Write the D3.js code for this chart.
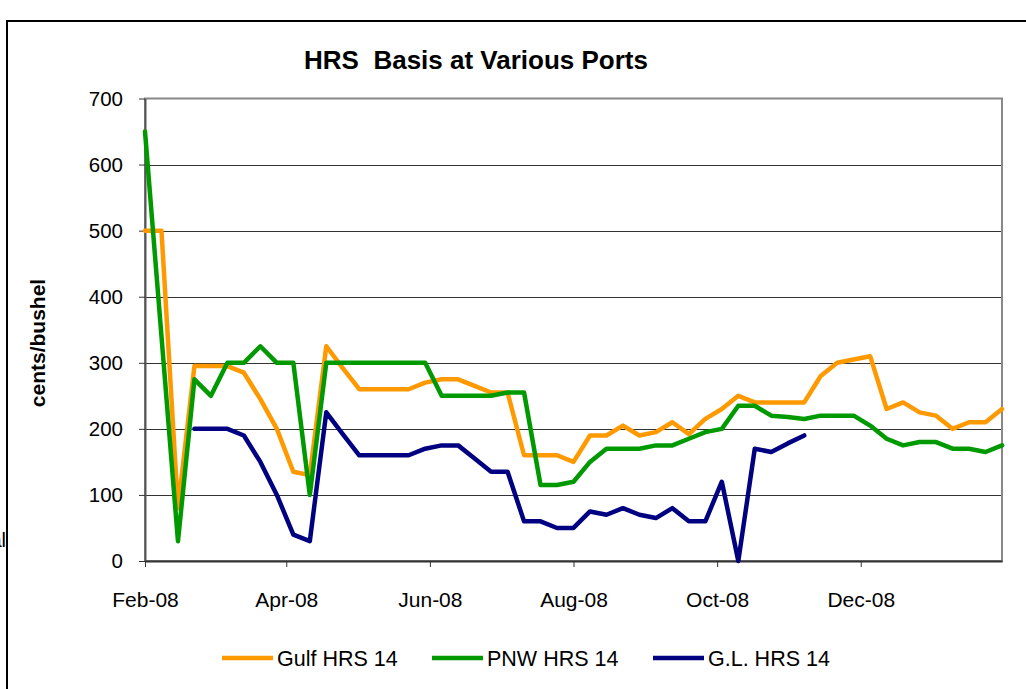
<!DOCTYPE html>
<html>
<head>
<meta charset="utf-8">
<script src="https://cdn.jsdelivr.net/npm/d3@7"></script>
<style>
  html, body { margin: 0; padding: 0; background: #fff; }
  svg { display: block; font-family: "Liberation Sans", Arial, sans-serif; }
</style>
</head>
<body>
<svg id="chart" width="1026" height="689"></svg>
<script>
// ---------------- DATA ----------------
const dates = [
  "2008-02-01","2008-02-08","2008-02-15","2008-02-22","2008-02-29","2008-03-07","2008-03-14","2008-03-21","2008-03-28",
  "2008-04-04","2008-04-11","2008-04-18","2008-04-25","2008-05-02","2008-05-09","2008-05-16","2008-05-23","2008-05-30",
  "2008-06-06","2008-06-13","2008-06-20","2008-06-27","2008-07-04","2008-07-11","2008-07-18","2008-07-25",
  "2008-08-01","2008-08-08","2008-08-15","2008-08-22","2008-08-29","2008-09-05","2008-09-12","2008-09-19","2008-09-26",
  "2008-10-03","2008-10-10","2008-10-17","2008-10-24","2008-10-31","2008-11-07","2008-11-14","2008-11-21","2008-11-28",
  "2008-12-05","2008-12-12","2008-12-19","2008-12-26","2009-01-02","2009-01-09","2009-01-16","2009-01-23","2009-01-30"
];
const gulfHRS14 = [
  500,500,80,295,295,295,285,245,200,
  135,130,325,292,260,260,260,260,270,
  275,275,265,255,255,160,160,160,
  150,190,190,205,190,195,210,192,215,
  230,250,240,240,240,240,280,300,305,
  310,230,240,225,220,200,210,210,230
];
const pnwHRS14 = [
  650,340,30,275,250,300,300,325,300,
  300,100,300,300,300,300,300,300,300,
  250,250,250,250,255,255,115,115,
  120,150,170,170,170,175,175,185,195,
  200,235,235,220,218,215,220,220,220,
  205,185,175,180,180,170,170,165,175
];
const glHRS14 = [
  null,null,null,200,200,200,190,150,100,
  40,30,225,192,160,160,160,160,170,
  175,175,155,135,135,60,60,50,
  50,75,70,80,70,65,80,60,60,
  120,0,170,165,178,190,null,null,null,
  null,null,null,null,null,null,null,null,null
];
const seriesNames = ["Gulf HRS 14", "PNW HRS 14", "G.L. HRS 14"];
const seriesColors = ["#FF9900", "#009900", "#000080"];
const yTicks = [0,100,200,300,400,500,600,700];
const xTickDates = ["2008-02-01","2008-04-01","2008-06-01","2008-08-01","2008-10-01","2008-12-01"];
const titleText = "HRS  Basis at Various Ports";
const yAxisTitle = "cents/bushel";

// ---------------- CHART ----------------
const parse = d3.timeParse("%Y-%m-%d");
const dateObjs = dates.map(parse);
const seriesData = [gulfHRS14, pnwHRS14, glHRS14];

const svg = d3.select("#chart");
svg.append("rect").attr("width", 1026).attr("height", 689).attr("fill", "#fff");

// outer chart frame (partially outside view)
svg.append("rect")
  .attr("x", 7).attr("y", 21).attr("width", 1100).attr("height", 700)
  .attr("fill", "none").attr("stroke", "#000").attr("stroke-width", 2);

// stray cut-off text at left
svg.append("text").attr("x", 6).attr("y", 547).attr("text-anchor", "end")
  .attr("font-size", 20).attr("fill", "#000").text("al");

const pLeft = 145, pRight = 1002, pTop = 98.5, pBottom = 561;
const x = d3.scaleTime().domain([dateObjs[0], dateObjs[dateObjs.length - 1]]).range([pLeft, pRight]);
const y = d3.scaleLinear().domain([0, 700]).range([pBottom, pTop]);

// gridlines
svg.append("g").selectAll("line").data(yTicks.filter(v => v > 0 && v < 700)).join("line")
  .attr("x1", pLeft).attr("x2", pRight)
  .attr("y1", d => Math.round(y(d)) + 0.5).attr("y2", d => Math.round(y(d)) + 0.5)
  .attr("stroke", "#333").attr("stroke-width", 1);

// plot border
svg.append("rect").attr("x", pLeft).attr("y", pTop).attr("width", pRight - pLeft).attr("height", pBottom - pTop)
  .attr("fill", "none").attr("stroke", "#888").attr("stroke-width", 2);

// title
svg.append("text").attr("x", 476).attr("y", 69).attr("text-anchor", "middle")
  .attr("font-size", 26).attr("font-weight", "bold").attr("fill", "#000")
  .style("white-space", "pre").attr("xml:space", "preserve").text(titleText);

// y axis title
svg.append("text").attr("transform", "translate(45,343) rotate(-90)")
  .attr("text-anchor", "middle").attr("font-size", 21).attr("font-weight", "bold")
  .attr("fill", "#000").text(yAxisTitle);

// y axis
const yAxis = svg.append("g").attr("transform", `translate(${pLeft},0)`)
  .call(d3.axisLeft(y).tickValues(yTicks).tickSize(6).tickSizeOuter(0).tickPadding(16).tickFormat(d3.format("d")));
yAxis.select(".domain").attr("stroke", "#555").attr("stroke-width", 2);
yAxis.selectAll(".tick line").attr("stroke", "#333");
yAxis.selectAll("text").attr("font-size", 20.5).attr("font-family", "Liberation Sans, Arial, sans-serif").attr("fill", "#000");

// x axis
const xAxis = svg.append("g").attr("transform", `translate(0,${pBottom})`)
  .call(d3.axisBottom(x).tickValues(xTickDates.map(parse)).tickSize(6).tickSizeOuter(0).tickPadding(25)
    .tickFormat(d3.timeFormat("%b-%y")));
xAxis.select(".domain").attr("stroke", "#333").attr("stroke-width", 2);
xAxis.selectAll(".tick line").attr("stroke", "#333");
xAxis.selectAll("text").attr("font-size", 21).attr("font-family", "Liberation Sans, Arial, sans-serif").attr("fill", "#000");

// lines
const line = d3.line()
  .defined(d => d.v !== null)
  .x(d => x(d.date)).y(d => y(d.v));
seriesData.forEach((vals, si) => {
  const pts = vals.map((v, i) => ({ date: dateObjs[i], v }));
  svg.append("path").datum(pts)
    .attr("d", line)
    .attr("fill", "none")
    .attr("stroke", seriesColors[si])
    .attr("stroke-width", 4.5)
    .attr("stroke-linejoin", "round")
    .attr("stroke-linecap", "round");
});

// legend
const legendX = [222, 432, 653];
const lg = svg.append("g");
seriesNames.forEach((name, i) => {
  const g = lg.append("g").attr("transform", `translate(${legendX[i]},658)`);
  g.append("line").attr("x1", 0).attr("x2", 51).attr("y1", 0).attr("y2", 0)
    .attr("stroke", seriesColors[i]).attr("stroke-width", 4.5);
  g.append("text").attr("x", 55).attr("y", 8).attr("font-size", 21.5).attr("fill", "#000").text(name);
});
</script>
</body>
</html>
